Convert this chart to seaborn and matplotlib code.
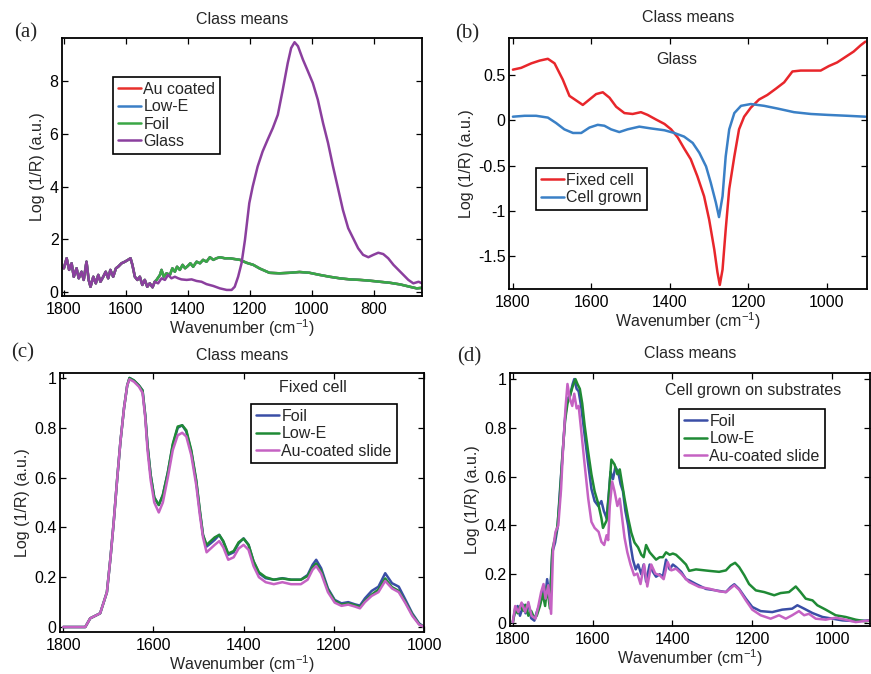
import matplotlib
matplotlib.use("Agg")
import matplotlib.pyplot as plt
import pandas as pd
import seaborn as sns
from matplotlib.ticker import FuncFormatter, FixedLocator

# ---------------- data ----------------
# (a) substrates, class means
a_shared_wn = [1800, 1791, 1783, 1775, 1768, 1759, 1752, 1743, 1736, 1727, 1720, 1714, 1705, 1697, 1689,
               1682, 1673, 1665, 1657, 1650, 1641, 1632, 1625, 1614, 1603, 1593, 1585, 1579, 1571, 1563,
               1555, 1547, 1539, 1531, 1523, 1514, 1507]
a_shared_val = [0.90, 1.28, 0.84, 1.09, 0.58, 0.90, 0.52, 0.77, 0.46, 1.15, 0.46, 0.20, 0.58, 0.33, 0.65,
                0.39, 0.58, 0.77, 0.52, 0.84, 0.58, 0.90, 0.96, 1.09, 1.15, 1.22, 1.28, 1.03, 0.58, 0.46,
                0.58, 0.27, 0.46, 0.20, 0.33, 0.18, 0.39]
a_glass_tail_wn = [1496, 1485, 1474, 1464, 1453, 1442, 1431, 1421, 1404, 1388, 1372, 1356, 1340, 1318, 1297,
                   1275, 1259, 1249, 1238, 1227, 1216, 1202, 1191, 1175, 1159, 1143, 1126, 1110, 1094, 1078,
                   1067, 1056, 1045, 1029, 1013, 997, 981, 964, 948, 932, 916, 900, 883, 867, 851, 835, 818,
                   802, 786, 770, 754, 737, 721, 705, 689, 673, 656, 645]
a_glass_tail_val = [0.33, 0.52, 0.46, 0.65, 0.52, 0.58, 0.52, 0.48, 0.46, 0.48, 0.42, 0.39, 0.30, 0.23, 0.14,
                    0.08, 0.08, 0.20, 0.58, 1.09, 1.97, 3.37, 4.0, 4.76, 5.33, 5.77, 6.22, 6.72, 7.67, 8.68,
                    9.25, 9.47, 9.32, 8.81, 8.37, 7.92, 7.29, 6.4, 5.65, 4.76, 3.94, 3.11, 2.42, 2.04, 1.66,
                    1.41, 1.32, 1.41, 1.49, 1.44, 1.28, 1.03, 0.84, 0.65, 0.46, 0.33, 0.39, 0.33]
a_sub_tail_wn = [1501, 1490, 1485, 1478, 1469, 1458, 1450, 1442, 1435, 1426, 1417, 1409, 1400, 1392, 1383,
                 1372, 1361, 1351, 1340, 1329, 1318, 1308, 1297, 1281, 1265, 1249, 1232, 1211, 1189, 1168,
                 1137, 1105, 1072, 1040, 1008, 975, 943, 910, 878, 845, 813, 781, 748, 716, 684, 662, 645]
a_sub_tail_val = [0.46, 0.65, 0.84, 0.58, 0.71, 0.65, 0.90, 0.77, 0.96, 0.84, 1.03, 0.90, 0.99, 1.09, 0.96,
                  1.15, 1.09, 1.22, 1.15, 1.32, 1.22, 1.28, 1.32, 1.28, 1.28, 1.25, 1.22, 1.11, 1.03, 0.89,
                  0.73, 0.71, 0.73, 0.76, 0.73, 0.65, 0.58, 0.52, 0.48, 0.46, 0.43, 0.39, 0.35, 0.29, 0.20,
                  0.14, 0.16]
a_labels = ["Au coated", "Low-E", "Foil", "Glass"]

# (b) glass: fixed cell vs cell grown
b_fixed_wn = [1800, 1779, 1753, 1732, 1711, 1694, 1673, 1656, 1639, 1622, 1605, 1588, 1571, 1554, 1537,
              1516, 1495, 1474, 1457, 1436, 1414, 1397, 1380, 1364, 1347, 1330, 1313, 1300, 1287, 1279,
              1273, 1266, 1258, 1249, 1236, 1224, 1211, 1194, 1173, 1152, 1130, 1109, 1088, 1067, 1041,
              1016, 995, 974, 953, 932, 914, 902]
b_fixed_val = [0.56, 0.58, 0.63, 0.66, 0.68, 0.63, 0.45, 0.27, 0.22, 0.17, 0.23, 0.29, 0.31, 0.25, 0.15,
               0.08, 0.07, 0.09, 0.06, 0.01, -0.04, -0.10, -0.19, -0.31, -0.43, -0.62, -0.84, -1.10, -1.43,
               -1.68, -1.82, -1.65, -1.21, -0.76, -0.40, -0.10, 0.04, 0.14, 0.23, 0.28, 0.35, 0.42, 0.54,
               0.55, 0.55, 0.55, 0.60, 0.64, 0.70, 0.76, 0.83, 0.87]
b_grown_wn = [1800, 1770, 1741, 1711, 1690, 1669, 1647, 1626, 1605, 1584, 1567, 1550, 1529, 1508, 1478,
              1448, 1414, 1389, 1364, 1342, 1325, 1308, 1296, 1283, 1275, 1266, 1258, 1249, 1236, 1219,
              1194, 1160, 1126, 1084, 1041, 999, 948, 902]
b_grown_val = [0.04, 0.05, 0.05, 0.03, -0.03, -0.10, -0.14, -0.14, -0.08, -0.05, -0.06, -0.10, -0.13, -0.10,
               -0.07, -0.09, -0.11, -0.14, -0.18, -0.25, -0.36, -0.51, -0.69, -0.91, -1.07, -0.84, -0.40,
               -0.10, 0.08, 0.16, 0.18, 0.16, 0.13, 0.09, 0.07, 0.06, 0.05, 0.04]
b_labels = ["Fixed cell", "Cell grown"]

# (c) fixed cell on substrates
c_wn = [1800, 1774, 1751, 1740, 1729, 1718, 1710, 1703, 1695, 1688, 1680, 1673, 1665, 1658, 1653, 1643,
        1632, 1624, 1618, 1613, 1606, 1598, 1588, 1579, 1568, 1557, 1546, 1536, 1527, 1516, 1505, 1497,
        1490, 1482, 1473, 1464, 1454, 1445, 1434, 1422, 1411, 1400, 1389, 1378, 1366, 1351, 1333, 1314,
        1295, 1273, 1258, 1247, 1239, 1228, 1213, 1198, 1183, 1168, 1153, 1142, 1131, 1116, 1101, 1086,
        1071, 1056, 1041, 1026, 1011, 1000]
c_foil = [0, 0, 0, 0.035, 0.045, 0.055, 0.10, 0.14, 0.28, 0.42, 0.60, 0.745, 0.88, 0.97, 1.0, 0.99, 0.97,
          0.95, 0.85, 0.73, 0.61, 0.52, 0.49, 0.53, 0.62, 0.73, 0.80, 0.81, 0.785, 0.705, 0.585, 0.464,
          0.37, 0.323, 0.336, 0.35, 0.37, 0.343, 0.29, 0.30, 0.336, 0.356, 0.33, 0.263, 0.216, 0.196,
          0.19, 0.196, 0.19, 0.19, 0.209, 0.25, 0.27, 0.236, 0.155, 0.109, 0.095, 0.10, 0.091, 0.086,
          0.115, 0.145, 0.162, 0.216, 0.176, 0.162, 0.109, 0.055, 0.015, 0]
c_lowe = [0, 0, 0, 0.035, 0.045, 0.055, 0.10, 0.14, 0.28, 0.42, 0.60, 0.745, 0.88, 0.97, 1.0, 0.99, 0.97,
          0.95, 0.85, 0.73, 0.61, 0.52, 0.49, 0.53, 0.62, 0.735, 0.805, 0.81, 0.79, 0.71, 0.59, 0.47,
          0.37, 0.33, 0.345, 0.36, 0.37, 0.345, 0.295, 0.305, 0.34, 0.355, 0.33, 0.265, 0.22, 0.20,
          0.19, 0.195, 0.19, 0.19, 0.205, 0.24, 0.255, 0.225, 0.15, 0.105, 0.09, 0.095, 0.088, 0.08,
          0.105, 0.13, 0.15, 0.195, 0.16, 0.145, 0.10, 0.05, 0.012, 0]
c_au = [0, 0, 0, 0.035, 0.045, 0.055, 0.10, 0.14, 0.28, 0.42, 0.60, 0.745, 0.88, 0.97, 0.995, 0.985, 0.965,
        0.94, 0.84, 0.71, 0.59, 0.50, 0.46, 0.50, 0.60, 0.71, 0.77, 0.78, 0.765, 0.69, 0.57, 0.45,
        0.36, 0.30, 0.315, 0.33, 0.345, 0.32, 0.27, 0.28, 0.315, 0.33, 0.31, 0.245, 0.20, 0.18,
        0.172, 0.18, 0.172, 0.172, 0.19, 0.23, 0.245, 0.215, 0.14, 0.098, 0.085, 0.09, 0.082, 0.075,
        0.10, 0.125, 0.14, 0.185, 0.155, 0.14, 0.095, 0.045, 0.01, 0]
cd_labels = ["Foil", "Low-E", "Au-coated slide"]

# (d) cells grown on substrates
d_foil_wn = [1800, 1794, 1788, 1782, 1773, 1768, 1761, 1754, 1746, 1740, 1732, 1725, 1719, 1714, 1707,
             1701, 1694, 1688, 1682, 1676, 1669, 1663, 1657, 1650, 1646, 1640, 1635, 1628, 1620, 1611,
             1603, 1595, 1586, 1578, 1572, 1565, 1560, 1555, 1549, 1543, 1536, 1530, 1524, 1518, 1511,
             1505, 1499, 1492, 1486, 1478, 1472, 1466, 1457, 1449, 1441, 1432, 1424, 1416, 1407, 1399,
             1391, 1378, 1366, 1358, 1341, 1316, 1291, 1266, 1254, 1245, 1233, 1216, 1200, 1179, 1150,
             1125, 1100, 1087, 1070, 1049, 1024, 999, 974, 941, 905]
d_foil_val = [0.004, 0.05, 0.07, 0.03, 0.075, 0.04, 0.08, 0.02, 0.01, 0.045, 0.08, 0.14, 0.10, 0.18, 0.10,
              0.29, 0.33, 0.39, 0.54, 0.675, 0.84, 0.92, 0.93, 0.98, 1.0, 0.96, 0.95, 0.88, 0.77, 0.65,
              0.55, 0.50, 0.48, 0.50, 0.46, 0.43, 0.52, 0.62, 0.59, 0.64, 0.62, 0.57, 0.54, 0.46, 0.40,
              0.32, 0.26, 0.22, 0.24, 0.20, 0.24, 0.17, 0.24, 0.21, 0.19, 0.20, 0.19, 0.26, 0.22, 0.24,
              0.23, 0.21, 0.18, 0.175, 0.16, 0.14, 0.134, 0.127, 0.148, 0.159, 0.14, 0.10, 0.066, 0.049,
              0.045, 0.055, 0.059, 0.073, 0.059, 0.041, 0.025, 0.018, 0.011, 0.008, 0.011]
d_lowe_wn = [1800, 1794, 1788, 1782, 1773, 1768, 1761, 1754, 1746, 1740, 1732, 1725, 1719, 1714, 1707,
             1701, 1694, 1688, 1682, 1676, 1669, 1663, 1657, 1650, 1643, 1638, 1632, 1626, 1620, 1611,
             1603, 1595, 1586, 1578, 1574, 1565, 1560, 1553, 1545, 1538, 1532, 1526, 1520, 1511, 1503,
             1495, 1486, 1478, 1472, 1466, 1457, 1449, 1441, 1432, 1424, 1416, 1407, 1399, 1391, 1378,
             1366, 1358, 1341, 1308, 1283, 1266, 1254, 1243, 1233, 1220, 1208, 1191, 1170, 1145, 1129,
             1108, 1091, 1079, 1066, 1049, 1037, 1016, 991, 966, 941, 916, 905]
d_lowe_val = [0.004, 0.06, 0.04, 0.07, 0.05, 0.075, 0.03, 0.05, 0.02, 0.03, 0.07, 0.12, 0.07, 0.15, 0.06,
              0.30, 0.35, 0.40, 0.52, 0.68, 0.83, 0.90, 0.93, 0.97, 1.0, 0.98, 0.96, 0.90, 0.81, 0.70,
              0.61, 0.54, 0.49, 0.43, 0.39, 0.42, 0.51, 0.67, 0.65, 0.61, 0.63, 0.57, 0.51, 0.43, 0.37,
              0.33, 0.31, 0.28, 0.27, 0.32, 0.29, 0.275, 0.26, 0.27, 0.27, 0.29, 0.28, 0.285, 0.28, 0.26,
              0.24, 0.214, 0.22, 0.214, 0.21, 0.216, 0.237, 0.247, 0.23, 0.196, 0.16, 0.134, 0.127, 0.114,
              0.123, 0.127, 0.15, 0.127, 0.10, 0.093, 0.073, 0.055, 0.032, 0.025, 0.014, 0.007, 0.011]
d_au_wn = [1800, 1794, 1786, 1778, 1769, 1761, 1753, 1743, 1736, 1729, 1723, 1718, 1711, 1704, 1699,
           1693, 1686, 1679, 1674, 1668, 1663, 1657, 1651, 1646, 1640, 1635, 1628, 1620, 1611, 1603,
           1595, 1585, 1578, 1571, 1565, 1561, 1557, 1551, 1545, 1538, 1532, 1526, 1520, 1513, 1505,
           1496, 1488, 1480, 1471, 1463, 1453, 1443, 1432, 1422, 1412, 1403, 1391, 1378, 1366, 1358,
           1333, 1308, 1283, 1266, 1245, 1233, 1216, 1200, 1179, 1154, 1133, 1116, 1100, 1083, 1070,
           1058, 1041, 1016, 991, 966, 941, 905]
d_au_val = [0.004, 0.07, 0.045, 0.084, 0.045, 0.086, 0.03, 0.018, 0.07, 0.127, 0.16, 0.10, 0.155, 0.038,
            0.305, 0.374, 0.40, 0.55, 0.716, 0.88, 0.98, 0.92, 0.89, 0.94, 0.88, 0.89, 0.78, 0.65, 0.51,
            0.415, 0.39, 0.374, 0.333, 0.32, 0.36, 0.34, 0.48, 0.58, 0.54, 0.48, 0.51, 0.43, 0.35, 0.29,
            0.24, 0.196, 0.203, 0.16, 0.24, 0.15, 0.24, 0.203, 0.196, 0.18, 0.25, 0.216, 0.223, 0.203,
            0.18, 0.168, 0.148, 0.141, 0.13, 0.127, 0.155, 0.137, 0.093, 0.055, 0.032, 0.018, 0.032,
            0.018, 0.032, 0.049, 0.032, 0.038, 0.018, 0.014, 0.022, 0.014, 0.004, 0.011]

x_ticks_a = [1800, 1600, 1400, 1200, 1000, 800]
y_ticks_a = [0, 2, 4, 6, 8]
x_ticks_bcd = [1800, 1600, 1400, 1200, 1000]
y_ticks_b = [-1.5, -1, -0.5, 0, 0.5]
y_ticks_cd = [0, 0.2, 0.4, 0.6, 0.8, 1]

# ---------------- style ----------------
sns.set_style("ticks")
plt.rcParams["font.family"] = ["Liberation Sans", "DejaVu Sans"]
plt.rcParams["mathtext.default"] = "regular"

W, H = 871, 674
FS = 11.5
fig = plt.figure(figsize=(W / 100, H / 100), dpi=100)
fig.patch.set_facecolor("white")


def ax_at(l, t, r, b):
    return fig.add_axes([l / W, 1 - b / H, (r - l) / W, (b - t) / H])


def ftext(x, y, s, **kw):
    fig.text(x / W, 1 - y / H, s, ha="center", va="center", **kw)


def style(ax, xt, yt, xlim, ylim):
    ax.set_xlim(*xlim)
    ax.set_ylim(*ylim)
    ax.xaxis.set_major_locator(FixedLocator(xt))
    ax.yaxis.set_major_locator(FixedLocator(yt))
    fmt = FuncFormatter(lambda v, p: f"{v:g}")
    ax.xaxis.set_major_formatter(fmt)
    ax.yaxis.set_major_formatter(fmt)
    ax.tick_params(direction="in", top=True, right=True, length=4.5, width=0.9,
                   labelsize=FS, colors="black")
    ax.tick_params(axis="x", pad=4.5)
    ax.tick_params(axis="y", pad=2.5)
    for sp in ax.spines.values():
        sp.set_visible(True)
        sp.set_color("black")
        sp.set_linewidth(1.3)
    ax.set_xlabel("Wavenumber (cm$^{-1}$)", fontsize=FS, labelpad=0)
    ax.set_ylabel("Log (1/R) (a.u.)", fontsize=FS, labelpad=3)
    ax.set_facecolor("white")


def line(ax, wn, val, color, label):
    df = pd.DataFrame({"wn": wn, "val": val})
    sns.lineplot(data=df, x="wn", y="val", ax=ax, color=color, lw=1.8, label=label,
                 sort=False, estimator=None)


def legend(ax, x, y):
    leg = ax.legend(loc="upper left", bbox_to_anchor=(x / W, 1 - y / H), bbox_transform=fig.transFigure,
                    borderaxespad=0, fontsize=FS, frameon=True, fancybox=False, handlelength=1.45,
                    handletextpad=0.15, labelspacing=0.15, borderpad=0.3)
    leg.get_frame().set_edgecolor("black")
    leg.get_frame().set_linewidth(1.2)
    leg.get_frame().set_alpha(1)


# ---------------- (a) ----------------
ax = ax_at(62, 38, 422, 296)
a_colors = ["#e8312c", "#3b7fc6", "#3aa745", "#8b3f9e"]
line(ax, a_shared_wn + a_sub_tail_wn, a_shared_val + a_sub_tail_val, a_colors[0], a_labels[0])
line(ax, a_shared_wn + a_sub_tail_wn, a_shared_val + a_sub_tail_val, a_colors[1], a_labels[1])
line(ax, a_shared_wn + a_sub_tail_wn, a_shared_val + a_sub_tail_val, a_colors[2], a_labels[2])
line(ax, a_shared_wn + a_glass_tail_wn, a_shared_val + a_glass_tail_val, a_colors[3], a_labels[3])
style(ax, x_ticks_a, y_ticks_a, (1806, 645), (-0.15, 9.63))
legend(ax, 113, 77)

# ---------------- (b) ----------------
ax = ax_at(509, 38, 867, 289)
line(ax, b_fixed_wn, b_fixed_val, "#e8262b", b_labels[0])
line(ax, b_grown_wn, b_grown_val, "#3a80c6", b_labels[1])
style(ax, x_ticks_bcd, y_ticks_b, (1810, 898), (-1.865, 0.91))
legend(ax, 536, 168)

# ---------------- (c) ----------------
cd_colors = ["#3a4ea6", "#1f8a35", "#c562c3"]
ax = ax_at(60, 373, 424, 632)
line(ax, c_wn, c_foil, cd_colors[0], cd_labels[0])
line(ax, c_wn, c_lowe, cd_colors[1], cd_labels[1])
line(ax, c_wn, c_au, cd_colors[2], cd_labels[2])
style(ax, x_ticks_bcd, y_ticks_cd, (1807, 1000), (-0.02, 1.02))
legend(ax, 251, 404)

# ---------------- (d) ----------------
ax = ax_at(510, 373, 870, 626)
line(ax, d_foil_wn, d_foil_val, cd_colors[0], cd_labels[0])
line(ax, d_lowe_wn, d_lowe_val, cd_colors[1], cd_labels[1])
line(ax, d_au_wn, d_au_val, cd_colors[2], cd_labels[2])
style(ax, x_ticks_bcd, y_ticks_cd, (1807, 905), (-0.012, 1.025))
legend(ax, 679, 409)

# ---------------- titles / annotations ----------------
for cx, cy in [(242, 20), (688, 17), (242, 355), (690, 353)]:
    ftext(cx, cy, "Class means", fontsize=FS)
ftext(677, 59, "Glass", fontsize=FS)
ftext(313, 387, "Fixed cell", fontsize=FS)
ftext(753, 390, "Cell grown on substrates", fontsize=FS)
for cx, cy, s in [(26, 33, "(a)"), (467, 34, "(b)"), (23, 353, "(c)"), (469, 357, "(d)")]:
    ftext(cx, cy, s, fontsize=15, family=["Liberation Serif", "DejaVu Serif"])

fig.savefig("out.png", dpi=100, facecolor="white")
